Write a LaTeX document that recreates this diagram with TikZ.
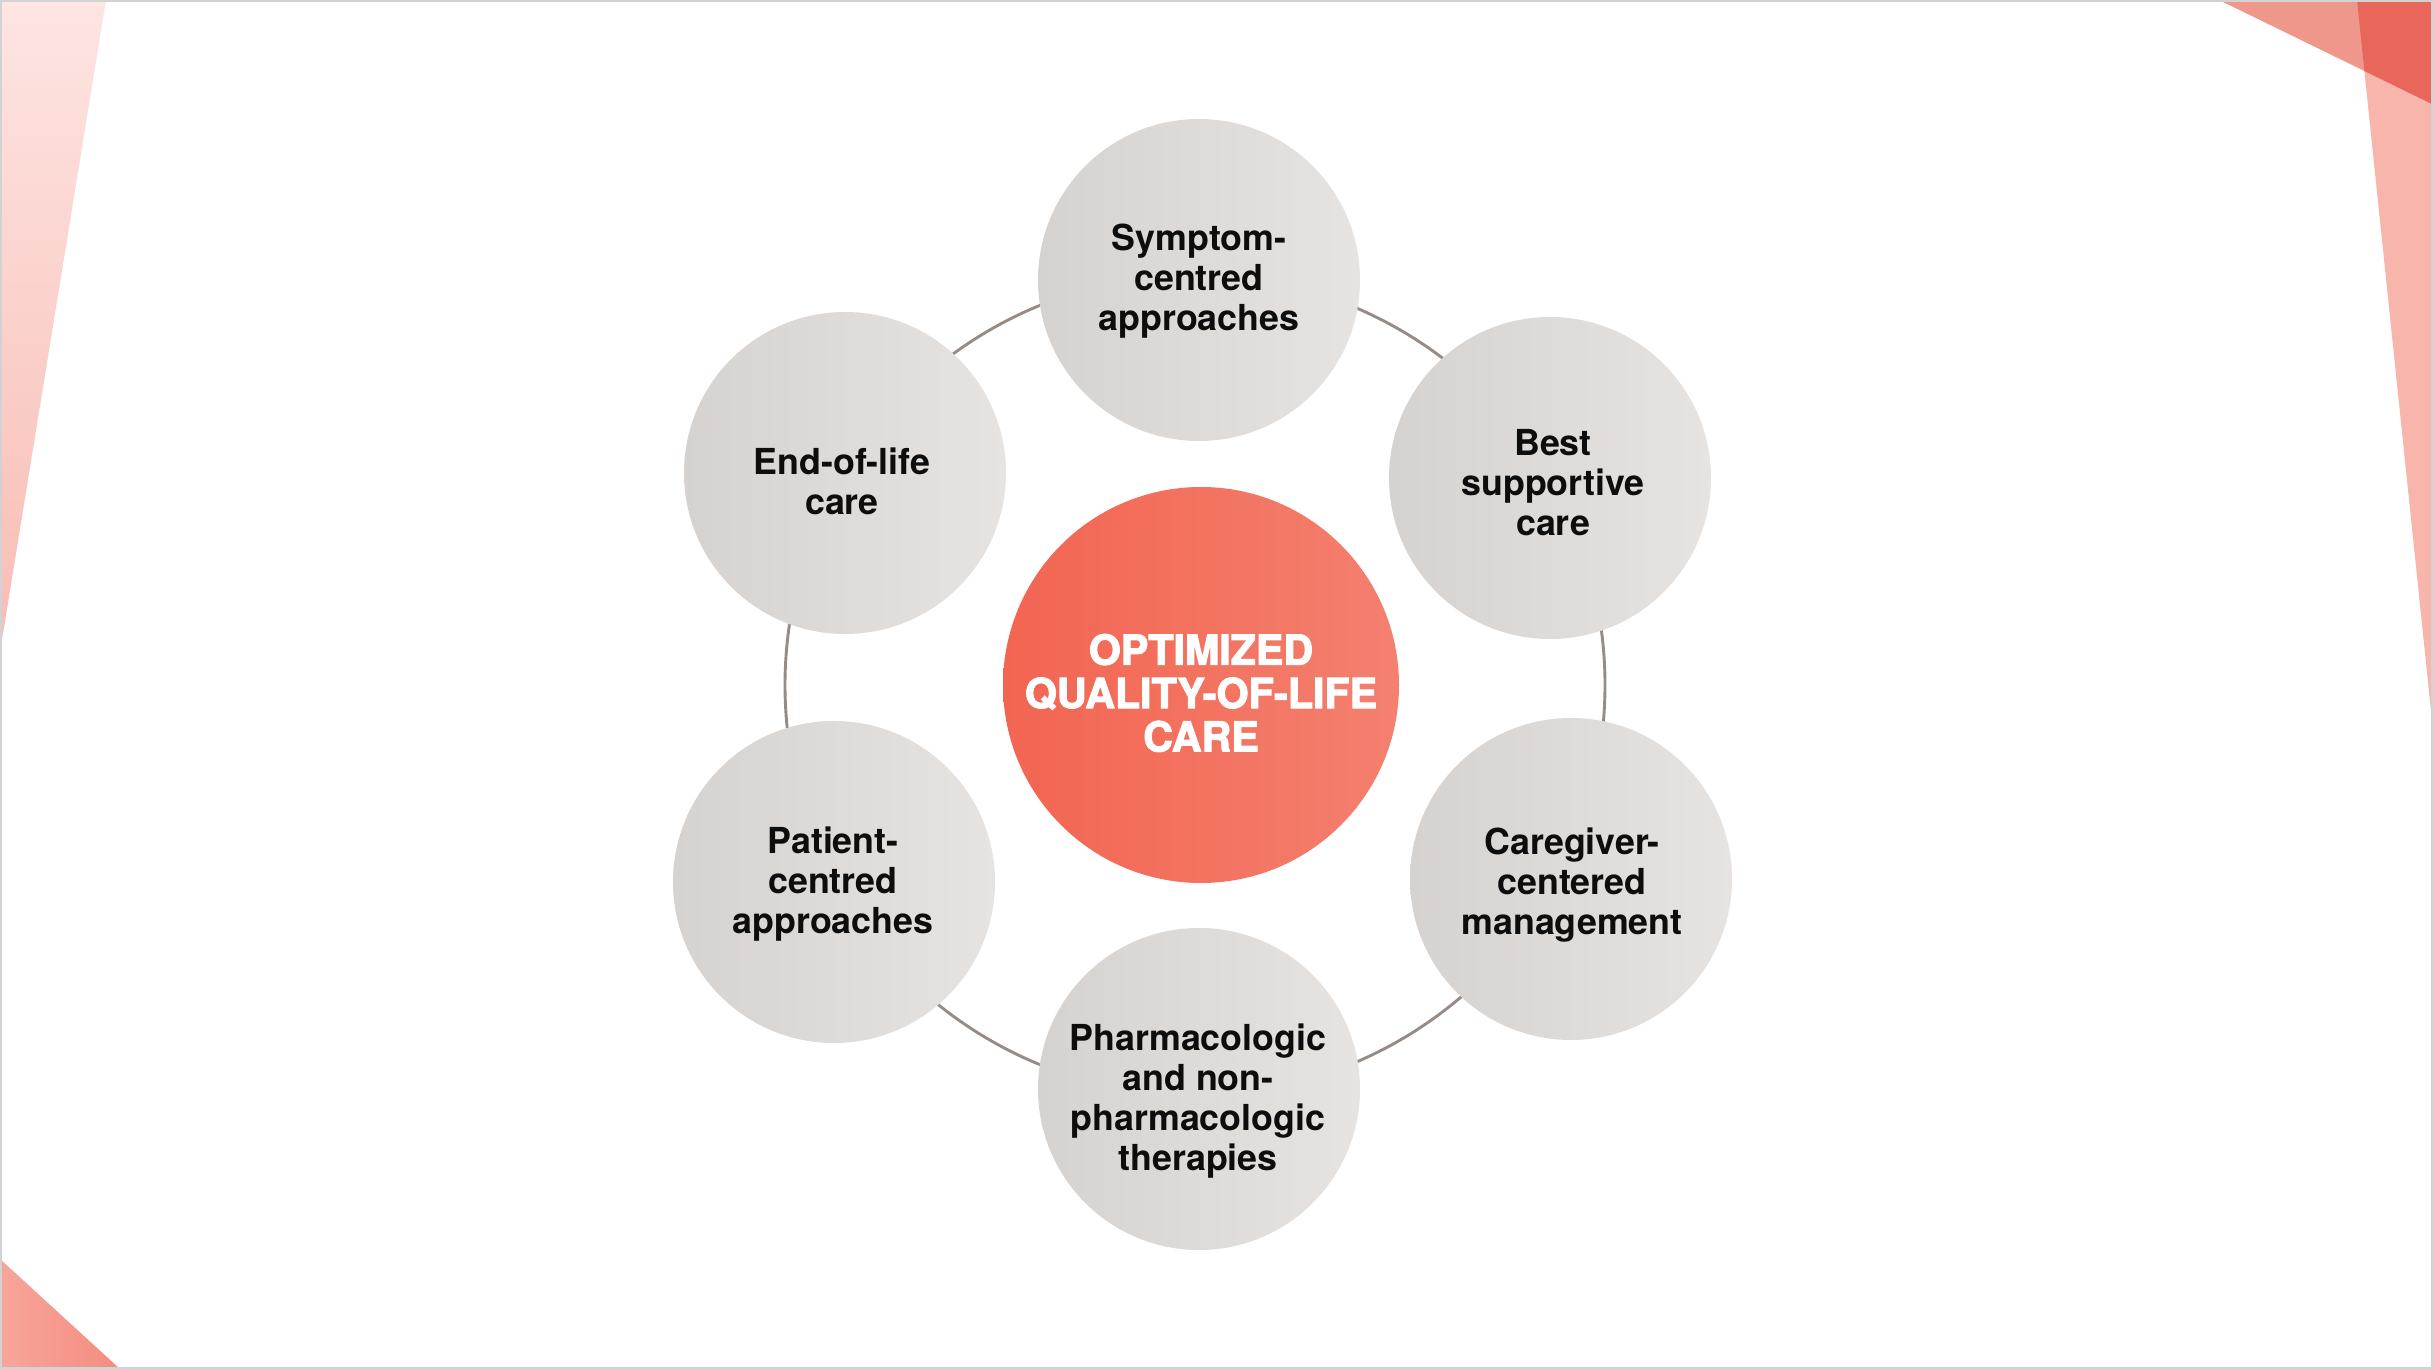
\documentclass[tikz,border=0pt]{standalone}
\usepackage{fontspec}
\setmainfont{TeX Gyre Heros}
\newfontfamily\heavyfont{TeX Gyre Heros}[BoldFeatures={FakeBold=2.6}]
\definecolor{bubL}{HTML}{D6D2CF}
\definecolor{bubR}{HTML}{E6E3E1}
\definecolor{coreL}{HTML}{F26551}
\definecolor{coreR}{HTML}{F4806F}
\definecolor{ringC}{HTML}{968C87}
\definecolor{frameC}{HTML}{D2D2D2}
\definecolor{pinkTop}{HTML}{FDE5E2}
\definecolor{pinkBot}{HTML}{F8BCB5}
\definecolor{blL}{HTML}{F8A59B}
\definecolor{blR}{HTML}{F48C81}
\definecolor{trTri}{HTML}{F0978B}
\definecolor{trBand}{HTML}{F7B5AC}
\definecolor{trDark}{HTML}{E8665A}
\begin{document}
\begin{tikzpicture}[x=0.5pt,y=-0.5pt,
  bub/.style={circle, inner sep=0pt, minimum size=161pt, left color=bubL, right color=bubR},
  bubtext/.style={inner sep=0pt, align=center, font=\fontsize{17.9}{20}\selectfont\bfseries, text=black!95},
  core/.style={circle, inner sep=0pt, minimum size=198pt, left color=coreL, right color=coreR},
  coretext/.style={inner sep=0pt, align=center, font=\heavyfont\fontsize{20.6}{21.7}\selectfont\bfseries, text=white},
  ringline/.style={circle, draw=ringC, line width=1.45pt, inner sep=0pt, minimum size=410pt}]
\useasboundingbox (0,0) rectangle (2433,1369);
\fill[white] (0,0) rectangle (2433,1369);
% decorations
\shade[top color=pinkTop, bottom color=pinkBot] (0,0) -- (106,0) -- (0,652) -- cycle;
\shade[left color=blL, right color=blR] (0,1259) -- (0,1369) -- (120,1369) -- cycle;
\fill[trBand] (2357,0) -- (2433,0) -- (2433,730) -- cycle;
\fill[trTri] (2219,0) -- (2433,0) -- (2433,104.5) -- cycle;
\begin{scope}
  \clip (2357,0) -- (2433,0) -- (2433,730) -- cycle;
  \fill[trDark] (2219,0) -- (2433,0) -- (2433,104.5) -- cycle;
\end{scope}
\draw[frameC, line width=1pt] (1,1) rectangle (2432,1368);
% ring
\node[ringline] (ring) at (1195,685) {};
% bubbles
\node[bub] (sym) at (1199,280) {};
\node[bub] (eol) at (845,473) {};
\node[bub] (bsc) at (1550,478) {};
\node[bub] (pat) at (834,882) {};
\node[bub] (cgv) at (1571,879) {};
\node[bub] (phr) at (1199,1089) {};
\node[core] (core) at (1201,685) {};
% labels
\node[bubtext] (symT) at ([yshift=-0.5pt]sym.center) {Symptom-\\centred\\approaches};
\node[bubtext] (eolT) at ([xshift=-1.5pt,yshift=-4pt]eol.center) {End-of-life\\care};
\node[bubtext] (bscT) at ([xshift=1.5pt,yshift=-2.5pt]bsc.center) {Best\\supportive\\care};
\node[bubtext] (patT) at ([xshift=-0.5pt,yshift=-1pt]pat.center) {Patient-\\centred\\approaches};
\node[bubtext] (cgvT) at ([xshift=0.5pt,yshift=-3pt]cgv.center) {Caregiver-\\centered\\management};
\node[bubtext] (phrT) at ([xshift=-0.5pt,yshift=-6pt]phr.center) {Pharmacologic\\and non-\\pharmacologic\\therapies};
\node[coretext] (coreT) at ([yshift=-4pt]core.center) {OPTIMIZED\\QUALITY-OF-LIFE\\CARE};
\end{tikzpicture}
\end{document}
